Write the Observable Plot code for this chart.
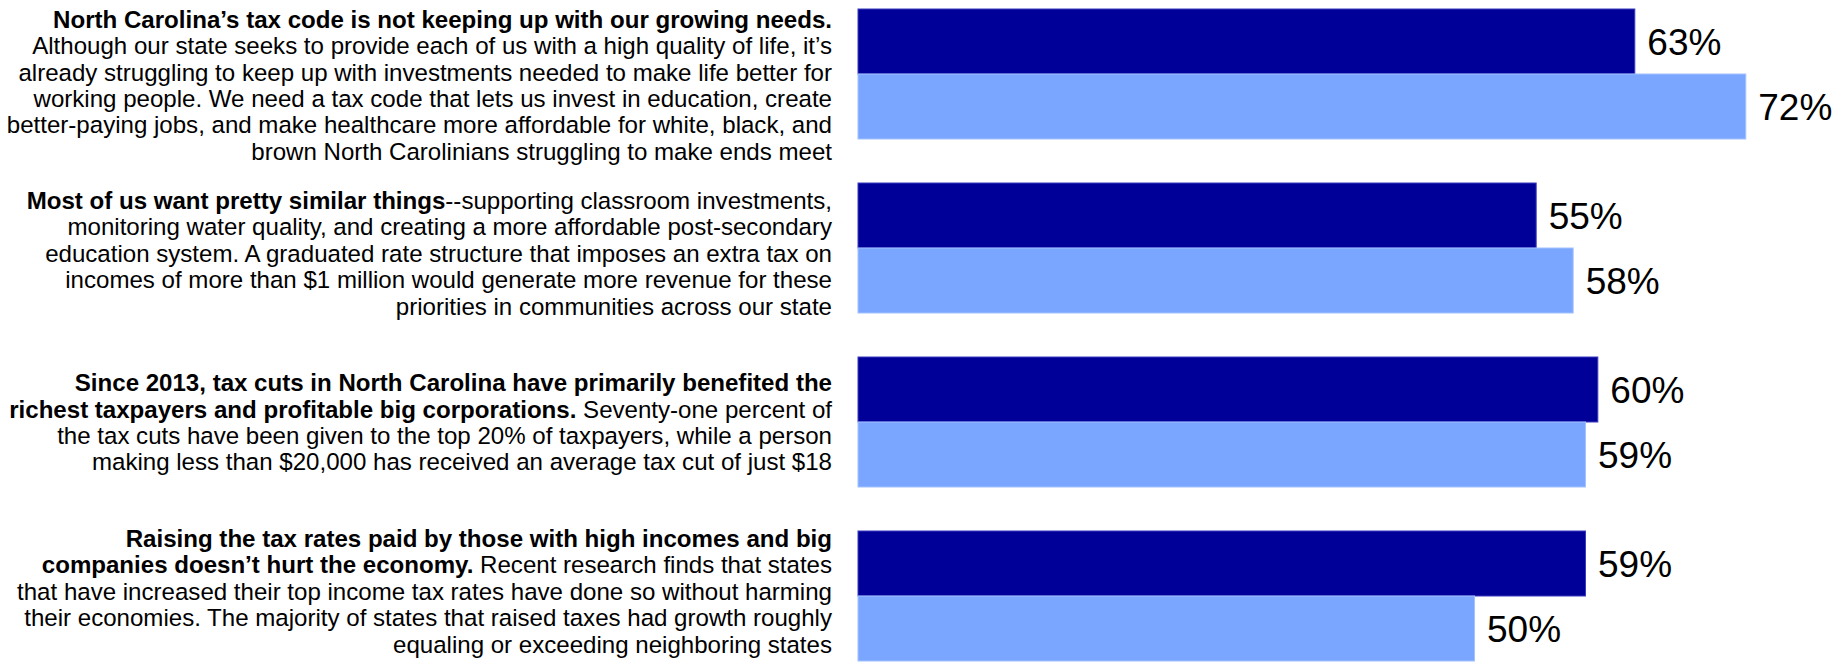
<!DOCTYPE html>
<html>
<head>
<meta charset="utf-8">
<script src="https://cdn.jsdelivr.net/npm/d3@7"></script>
<script src="https://cdn.jsdelivr.net/npm/@observablehq/plot@0.6"></script>
<style>
  html, body { margin: 0; padding: 0; background: #fff; }
  #chart { width: 1848px; height: 665px; }
</style>
</head>
<body>
<div id="chart"></div>
<script>
// ---- data ----
const questions = ["q1", "q2", "q3", "q4"];
const seriesNames = ["Series 1", "Series 2"];
const series1Values = [63, 55, 60, 59];
const series2Values = [72, 58, 59, 50];

// statement texts: each line is a list of [text, isBold] segments
const statementLines = [
  [
    [["North Carolina\u2019s tax code is not keeping up with our growing needs.", true]],
    [["Although our state seeks to provide each of us with a high quality of life, it\u2019s", false]],
    [["already struggling to keep up with investments needed to make life better for", false]],
    [["working people. We need a tax code that lets us invest in education, create", false]],
    [["better-paying jobs, and make healthcare more affordable for white, black, and", false]],
    [["brown North Carolinians struggling to make ends meet", false]]
  ],
  [
    [["Most of us want pretty similar things", true], ["--supporting classroom investments,", false]],
    [["monitoring water quality, and creating a more affordable post-secondary", false]],
    [["education system. A graduated rate structure that imposes an extra tax on", false]],
    [["incomes of more than $1 million would generate more revenue for these", false]],
    [["priorities in communities across our state", false]]
  ],
  [
    [["Since 2013, tax cuts in North Carolina have primarily benefited the", true]],
    [["richest taxpayers and profitable big corporations.", true], [" Seventy-one percent of", false]],
    [["the tax cuts have been given to the top 20% of taxpayers, while a person", false]],
    [["making less than $20,000 has received an average tax cut of just $18", false]]
  ],
  [
    [["Raising the tax rates paid by those with high incomes and big", true]],
    [["companies doesn\u2019t hurt the economy.", true], [" Recent research finds that states", false]],
    [["that have increased their top income tax rates have done so without harming", false]],
    [["their economies. The majority of states that raised taxes had growth roughly", false]],
    [["equaling or exceeding neighboring states", false]]
  ]
];

// ---- table built from the arrays ----
const rows = [];
questions.forEach((q, i) => {
  rows.push({question: q, series: seriesNames[0], value: series1Values[i]});
  rows.push({question: q, series: seriesNames[1], value: series2Values[i]});
});

// ---- layout / style ----
const W = 1848, H = 665;
const FONT = "'Liberation Sans', Arial, Helvetica, sans-serif";
const textRight = 832;
const lineStep = 26.4;
const textShift = [12, 6, 1, -4];
const textSize = 23.5;
const textScaleX = 1.025;

const plot = Plot.plot({
  width: W,
  height: H,
  marginLeft: 858,
  marginRight: 0,
  marginTop: 6,
  marginBottom: 3,
  style: {fontFamily: FONT, background: "#fff"},
  x: {domain: [0, 80.29], axis: null},
  y: {domain: seriesNames, padding: 0, axis: null},
  fy: {domain: questions, paddingInner: 0.25, paddingOuter: 0, axis: null},
  color: {domain: seriesNames, range: ["#000099", "#7aa6ff"]},
  marks: [
    Plot.barX(rows, {
      x: "value", y: "series", fy: "question", fill: "series",
      stroke: d => d.series === seriesNames[0] ? "#3a3abf" : "#a4c2ff",
      strokeWidth: 1
    }),
    Plot.text(rows, {
      x: "value", y: "series", fy: "question",
      text: d => d.value + "%",
      textAnchor: "start", dx: 12, dy: 1,
      fontSize: 37, fill: "#000"
    })
  ]
});

// statement text blocks, positioned with the fy scale
const fy = plot.scale("fy");
const svg = d3.select(plot.tagName === "svg" ? plot : plot.querySelector("svg"));
const g = svg.append("g").attr("font-family", FONT).attr("font-size", textSize).attr("fill", "#000");
questions.forEach((q, i) => {
  const center = fy.apply(q) + fy.bandwidth / 2 + textShift[i];
  const lines = statementLines[i];
  const n = lines.length;
  lines.forEach((segs, j) => {
    const y = center + (j - (n - 1) / 2) * lineStep;
    const t = g.append("text")
      .attr("transform", `translate(${textRight},${y}) scale(${textScaleX},1)`)
      .attr("dy", "0.35em")
      .attr("text-anchor", "end");
    segs.forEach(([txt, bold]) => {
      t.append("tspan").attr("font-weight", bold ? "bold" : "normal").text(txt);
    });
  });
});

document.getElementById("chart").appendChild(plot);
</script>
</body>
</html>
